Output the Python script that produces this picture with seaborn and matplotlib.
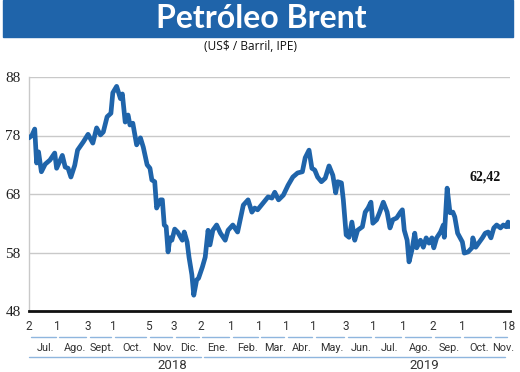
import matplotlib
matplotlib.use("Agg")
import matplotlib.pyplot as plt
import matplotlib.transforms as mtransforms
from matplotlib.patches import Rectangle
import seaborn as sns
import pandas as pd

# ---- data (day offset from 2 Jul 2018, Brent price US$/barrel) ----
day = [0, 3, 6, 8, 10, 13, 17, 22, 27, 29, 35, 38, 41, 44, 48, 51, 57, 62, 67, 71,
       75, 78, 82, 86, 88, 92, 96, 98, 101, 104, 106, 109, 113, 117, 120, 124, 127, 129,
       132, 134, 138, 140, 142, 144, 146, 148, 150, 153, 156, 161, 163, 166, 168, 171,
       173, 176, 178, 182, 185, 188, 190, 193, 197, 201, 206, 209, 214, 219, 225, 230,
       234, 237, 240, 246, 251, 255, 258, 262, 267, 272, 277, 282, 287, 290, 294, 297,
       300, 303, 307, 311, 315, 319, 322, 324, 328, 330, 333, 336, 339, 342, 345, 350,
       353, 356, 359, 361, 365, 368, 372, 376, 379, 382, 386, 390, 392, 394, 397, 399,
       402, 405, 407, 411, 414, 417, 420, 423, 425, 428, 432, 435, 436, 439, 442, 445,
       447, 450, 455, 457, 461, 465, 466, 469, 472, 476, 479, 482, 485, 488, 491, 495,
       498, 501, 503, 504]
price = [77.6, 78.0, 79.1, 73.3, 75.2, 71.8, 73.1, 73.8, 75.0, 72.4, 74.6, 72.6, 72.4,
         70.9, 72.9, 75.5, 76.9, 78.2, 76.7, 79.3, 78.1, 78.6, 81.2, 81.8, 85.3, 86.4,
         84.3, 85.1, 80.3, 81.5, 79.8, 80.1, 76.4, 77.6, 76.0, 73.0, 72.4, 70.4, 70.1,
         65.6, 67.0, 67.0, 62.7, 62.4, 58.1, 60.5, 60.1, 62.0, 61.5, 60.1, 61.5, 59.8,
         57.2, 54.2, 50.7, 53.3, 53.6, 55.5, 57.2, 61.8, 59.3, 61.8, 62.7, 61.3, 60.1,
         61.8, 62.7, 61.5, 66.1, 67.0, 64.9, 65.6, 65.3, 66.5, 67.5, 67.3, 68.3, 67.0,
         67.8, 69.5, 70.9, 71.6, 71.8, 74.2, 75.5, 72.4, 72.1, 70.9, 70.1, 70.7, 72.8,
         71.2, 68.2, 70.1, 69.9, 67.0, 61.0, 60.6, 63.2, 60.1, 61.8, 62.4, 64.9, 65.6,
         66.6, 63.0, 63.6, 64.8, 66.6, 64.9, 62.2, 63.6, 63.9, 64.9, 65.3, 61.8, 60.1,
         56.4, 58.4, 61.3, 58.8, 60.1, 58.9, 60.5, 59.6, 60.5, 58.8, 60.5, 61.5, 62.7,
         60.6, 69.0, 64.8, 64.9, 64.1, 61.3, 59.8, 57.9, 58.1, 58.8, 60.5, 58.9, 59.6,
         60.5, 61.3, 61.5, 60.5, 62.2, 62.7, 62.2, 62.7, 62.4, 63.2, 62.42]

# first labelled trading day of each month (offsets) and their day-of-month labels
tick_pos = [0, 30, 62, 88, 125, 152, 180, 212, 242, 270, 299, 333, 361, 393, 424, 455, 504]
tick_lab = ["2", "1", "3", "1", "5", "3", "2", "1", "1", "1", "1", "3", "1", "1", "2", "1", "18"]
# month segment boundaries (incl. unlabelled 1 Nov 2019) and names
month_edges = [0, 30, 62, 88, 125, 152, 180, 212, 242, 270, 299, 333, 361, 393, 424, 455, 487, 504]
month_names = ["Jul.", "Ago.", "Sept.", "Oct.", "Nov.", "Dic.", "Ene.", "Feb.", "Mar.",
               "Abr.", "May.", "Jun.", "Jul.", "Ago.", "Sep.", "Oct.", "Nov."]
years = ["2018", "2019"]
year_edges = [(0, 184), (184, 503)]
year_label_pos = [150, 415]

y_ticks = [48, 58, 68, 78, 88]

BLUE = "#1f64aa"
LIGHTBLUE = "#8fb6de"

sns.set_theme(style="white")
plt.rcParams["font.family"] = ["DejaVu Sans"]

df = pd.DataFrame({"day": day, "price": price})

fig = plt.figure(figsize=(5.2, 3.72), dpi=100)
ax = fig.add_axes([29 / 520, 1 - 311 / 372, 481 / 520, 234 / 372])

sns.lineplot(data=df, x="day", y="price", ax=ax, color=BLUE, linewidth=3.4,
             solid_joinstyle="round", solid_capstyle="round", zorder=3)

ax.set_xlim(0, 505)
ax.set_ylim(48, 88)
ax.set_yticks(y_ticks)
ax.set_yticklabels([str(v) for v in y_ticks], family="Liberation Serif", fontsize=11,
                   color="#222222")
ax.tick_params(axis="y", length=0, pad=6)
ax.set_xticks([])
ax.set_xlabel("")
ax.set_ylabel("")
for v in y_ticks[1:]:
    ax.axhline(v, color="#c9c9c9", linewidth=1.0, zorder=1)

for s in ["top", "right"]:
    ax.spines[s].set_visible(False)
ax.spines["left"].set_color("#c9c9c9")
ax.spines["left"].set_linewidth(1.0)
ax.spines["bottom"].set_color("#111111")
ax.spines["bottom"].set_linewidth(2.0)

trans = mtransforms.blended_transform_factory(ax.transData, ax.transAxes)
cond = dict(family=["Roboto", "DejaVu Sans"], color="#333333")

for p, lab in zip(tick_pos, tick_lab):
    ax.text(p, -0.068, lab, transform=trans, ha="center", va="center", fontsize=8.5,
            clip_on=False, **cond)

for i, name in enumerate(month_names):
    a, b = month_edges[i], month_edges[i + 1]
    ax.plot([a + 2, b - 2], [-0.111, -0.111], transform=trans, color=LIGHTBLUE,
            linewidth=1.0, clip_on=False)
    ax.text((a + b) / 2 + 2, -0.158, name, transform=trans, ha="center", va="center",
            fontsize=7.8, clip_on=False, **cond)

for (a, b), yr, xp in zip(year_edges, years, year_label_pos):
    ax.plot([a, b - 3], [-0.197, -0.197], transform=trans, color=LIGHTBLUE,
            linewidth=1.0, clip_on=False)
    ax.text(xp, -0.235, yr, transform=trans, ha="center", va="center",
            fontsize=9.5, clip_on=False, **cond)

last_label = f"{price[-1]:.2f}".replace(".", ",")
ax.annotate(last_label, xy=(day[-1], price[-1]), xytext=(-17, 36),
            textcoords="offset points", ha="center", va="center",
            family="Liberation Serif", fontweight="bold", fontsize=10, color="#111111")

# title banner
fig.patches.append(Rectangle((3 / 520, 1 - 37 / 372), 510 / 520, 37 / 372,
                             transform=fig.transFigure, color=BLUE, zorder=0))
fig.text(261 / 520, 1 - 19 / 372, "Petróleo Brent", ha="center", va="center",
         color="white", fontsize=23, fontweight="bold", family=["Lato", "DejaVu Sans"])
fig.text(251 / 520, 1 - 47 / 372, "(US$ / Barril, IPE)", ha="center", va="center",
         color="#111111", fontsize=8.6, family=["Open Sans", "DejaVu Sans"])

fig.savefig("out.png", dpi=100)
